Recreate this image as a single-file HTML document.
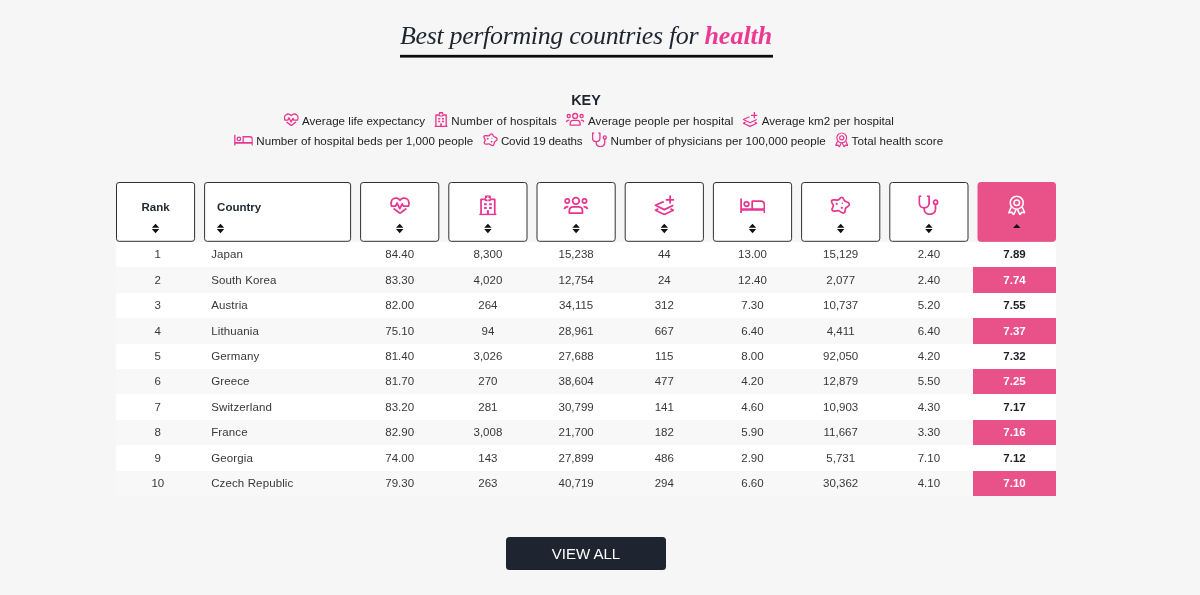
<!DOCTYPE html><html lang="en"><head><meta charset="utf-8"><title>Best performing countries for health</title><style>*{box-sizing:border-box;margin:0;padding:0}
html,body{width:1200px;height:595px;overflow:hidden}
body{background:#f6f6f6;font-family:"Liberation Sans",Arial,sans-serif;color:#2b2b2b;position:relative}
.defs{position:absolute;width:0;height:0}
.title{position:absolute;left:400px;top:19px;white-space:nowrap;font-family:"Liberation Serif","Times New Roman",serif;font-style:italic;font-weight:400;font-size:26px;line-height:34px;color:#1f2530;letter-spacing:-.35px}
.title .tt{display:inline-block;width:373px}
.title b{color:#ec3a93;font-weight:700;letter-spacing:0}
.keyh{position:absolute;left:0;width:1172px;top:91px;text-align:center;font-weight:700;font-size:14.4px;line-height:18px;color:#1f2530}
.key{position:absolute;left:0;top:0;width:1200px;height:0;font-size:11.6px;line-height:20px;color:#222;white-space:nowrap}
.kt{position:absolute;white-space:nowrap}
.k1 .kt{top:110.5px}.k2 .kt{top:130.6px}
svg{fill:none;stroke:currentColor;stroke-width:1.75;stroke-linecap:butt;stroke-linejoin:round;overflow:visible}
svg .f{fill:currentColor;stroke:none}
.thead{position:absolute;left:0;top:182px;width:1200px;height:60px}
.ov{position:absolute;left:0;top:0;pointer-events:none}
.ov .bw{fill:#fff;stroke:#303030;stroke-width:1}
.ov .bs{fill:#e95189;stroke:#e95189;stroke-width:1}
.ov .kic,.ov .hic{color:#e73690}
.ov .hs{color:#fff}
.ov .ar{fill:#111;stroke:none}
.ov .ul{fill:#0c0c0c;stroke:none}
.th{position:absolute;top:0;height:59.8px;border:1px solid transparent;text-align:center}
.th .lbl{position:absolute;left:0;right:0;top:16.5px;font-weight:700;font-size:11.5px;line-height:14px;color:#1f2530}
.th-l .lbl{left:12px;text-align:left}
.tbody{position:absolute;left:116px;top:242px;width:940px}
.tr{position:relative;height:25.4px;font-size:11.5px;line-height:25.4px;color:#383838}
.tr.odd{background:#fff}
.tr.even{background:#f8f8f8}
.td{position:absolute;top:0;height:100%;padding-top:.4px;text-align:center;white-space:nowrap}
.c1{text-align:left;padding-left:11.6px;letter-spacing:.12px}
.c9{font-weight:700;color:#1d1f24}
.even .c9{background:#e95189;color:#fff}
.btn{position:absolute;left:506px;top:536.8px;width:159.8px;height:33px;border-radius:3.5px;background:#1f2530;color:#fff;font-size:15px;line-height:33px;text-align:center}
</style></head><body>
<svg class="defs" aria-hidden="true"><defs>
<symbol id="i-heart" viewBox="0 0 20 20"><path d="M1.600 10.900 C0.600 8.600 0.900 5.100 3.100 3.600 C5.600 1.900 8.600 2.800 10 5 C11.400 2.800 14.400 1.900 16.900 3.600 C19.100 5.100 19.400 8.600 18.400 10.900"/><path d="M1 10.800 H5.600 L7 7.700 L9.800 13.300 L12.200 8.500 L13.400 10.800 H19"/><path d="M3.600 13.200 L9.300 17.500 Q10 18 10.700 17.500 L16.400 13.200"/></symbol>
<symbol id="i-hosp" viewBox="0 0 17.500 20"><path d="M1.900 19.300 V4 H6.200 M11.300 4 H15.600 V19.300"/><path d="M0 19.300 H17.500" style="stroke-width:1.600"/><path class="f" fill-rule="evenodd" d="M6.900 0 H10.600 Q11.700 0 11.700 1.100 V4.900 Q11.700 6 10.600 6 H6.900 Q5.800 6 5.800 4.900 V1.100 Q5.800 0 6.900 0 Z M8.150 1.300 V2.700 H6.900 V3.900 H8.150 V5.200 H9.350 V3.900 H10.600 V2.700 H9.350 V1.300 Z"/><path class="f" d="M4.900 7.900 H7.600 V10 H4.900 Z M9.900 7.900 H12.600 V10 H9.900 Z M4.900 11.800 H7.600 V13.800 H4.900 Z M9.900 11.800 H12.600 V13.800 H9.900 Z M7.700 15 H9.800 V18.800 H7.700 Z"/></symbol>
<symbol id="i-people" viewBox="0 0 25 20"><circle cx="12.600" cy="5.300" r="3.300"/><circle cx="4" cy="5.400" r="2.100"/><circle cx="21.200" cy="5.400" r="2.100"/><path d="M6 17.400 V15.500 C6 12.800 7.800 11.200 10 11.200 H15.200 C17.400 11.200 19.200 12.800 19.200 15.500 V17.400 Z"/><path d="M1 13.500 C1.300 11.800 2.800 10.900 5 10.900"/><path d="M24.200 13.500 C23.900 11.800 22.400 10.900 20.200 10.900"/></symbol>
<symbol id="i-layers" viewBox="0 0 20 20"><path d="M9.400 6.300 L1.100 10 L10 14.300 L19.100 10"/><path d="M4 13.500 L1.200 15 L10 19.200 L19 15 L16.200 13.600"/><path d="M15.800 0 V8.300 M11.400 4.500 H20"/></symbol>
<symbol id="i-bed" viewBox="0 0 25 20"><path d="M1.100 3.100 V17.700"/><path d="M24.400 14.200 V17.700"/><path d="M1.100 14.200 H24.400" style="stroke-width:2.400"/><path d="M12.200 14.200 V5.900 H20.900 C22.900 5.900 24.400 7.400 24.400 9.400 V14.200"/><circle cx="6.500" cy="8.800" r="2.300"/></symbol>
<symbol id="i-virus" viewBox="0 0 20 20"><path d="M11.800 2 C13.800 2 13.400 4.800 14.700 5.700 C16.200 6.700 19.300 6.700 19.300 9.100 C19.300 11.100 16.200 11.600 15.500 13.100 C14.800 14.700 15.600 17.700 13.300 17.700 C11.400 17.700 10 15.600 8.100 15.400 C6.200 15.200 3.400 17 2.100 14.900 C1 13.100 3.400 11.900 3.300 10.300 C3.200 8.700 0.600 7.400 1.500 5.400 C2.500 3.400 5.900 5.300 8.100 4.600 C9.700 4.100 10 2 11.800 2 Z"/><circle class="f" cx="6.600" cy="8.500" r="1.150"/><circle class="f" cx="12.200" cy="8" r="0.750"/><circle class="f" cx="11.700" cy="12.500" r="1.150"/></symbol>
<symbol id="i-steth" viewBox="0 0 20.700 20"><path d="M3.200 0.900 H1.100 V8 C1.100 10.700 3.300 12.500 6 12.500 C8.700 12.500 10.900 10.700 10.900 8 V0.900 H8.800"/><path d="M6 12.500 V14 C6 17 8.500 19 11.600 19 C14.700 19 17.300 17 17.300 14 V9"/><circle cx="17.400" cy="6.900" r="2.050"/></symbol>
<symbol id="i-award" viewBox="0 0 17.700 20" style="stroke-width:1.550"><circle cx="8.850" cy="7.400" r="6.500"/><circle cx="8.850" cy="7.400" r="2.800"/><path d="M3.300 12 L0.900 17.400 L3.900 17 L5.700 19.500 L8.100 14.300"/><path d="M14.400 12 L16.800 17.400 L13.800 17 L12 19.500 L9.600 14.300"/></symbol>
</defs></svg>

<h2 class="title"><span class="tt">Best performing countries for <b>health</b></span></h2>
<div class="keyh">KEY</div>
<div class="key k1">
<span class="kt" style="left:302.0px;letter-spacing:0.013px">Average life expectancy</span>
<span class="kt" style="left:451.2px;letter-spacing:0.138px">Number of hospitals</span>
<span class="kt" style="left:588.0px;letter-spacing:0.044px">Average people per hospital</span>
<span class="kt" style="left:761.7px;letter-spacing:0.042px">Average km2 per hospital</span>
</div>
<div class="key k2">
<span class="kt" style="left:256.3px;letter-spacing:0.025px">Number of hospital beds per 1,000 people</span>
<span class="kt" style="left:500.9px;letter-spacing:-0.150px">Covid 19 deaths</span>
<span class="kt" style="left:610.5px;letter-spacing:0.017px">Number of physicians per 100,000 people</span>
<span class="kt" style="left:851.6px;letter-spacing:0.040px">Total health score</span>
</div>
<svg class="ov" width="1200" height="595"><rect class="ul" x="400" y="54.85" width="373" height="2.75"/><rect class="bw" x="116.50" y="182.5" width="78.10" height="58.8" rx="2.6"/><rect class="bw" x="204.60" y="182.5" width="146.00" height="58.8" rx="2.6"/><rect class="bw" x="360.60" y="182.5" width="78.20" height="58.8" rx="2.6"/><rect class="bw" x="448.80" y="182.5" width="78.20" height="58.8" rx="2.6"/><rect class="bw" x="537.00" y="182.5" width="78.20" height="58.8" rx="2.6"/><rect class="bw" x="625.20" y="182.5" width="78.20" height="58.8" rx="2.6"/><rect class="bw" x="713.40" y="182.5" width="78.20" height="58.8" rx="2.6"/><rect class="bw" x="801.60" y="182.5" width="78.20" height="58.8" rx="2.6"/><rect class="bw" x="889.80" y="182.5" width="78.20" height="58.8" rx="2.6"/><rect class="bs" x="978.00" y="182.5" width="77.50" height="58.8" rx="2.6"/><use class="kic" href="#i-heart" x="283.75" y="112.00" width="15.00" height="15.00"/><use class="kic" href="#i-hosp" x="434.50" y="112.00" width="13.12" height="15.00"/><use class="kic" href="#i-people" x="565.70" y="112.00" width="18.75" height="15.00"/><use class="kic" href="#i-layers" x="742.50" y="112.00" width="15.00" height="15.00"/><use class="kic" href="#i-bed" x="234.00" y="132.30" width="18.75" height="15.00"/><use class="kic" href="#i-virus" x="482.80" y="132.30" width="15.00" height="15.00"/><use class="kic" href="#i-steth" x="591.75" y="132.30" width="15.52" height="15.00"/><use class="kic" href="#i-award" x="835.10" y="132.30" width="13.28" height="15.00"/><path class="ar" d="M155.55 223.8 L159.25 227.8 H151.85 Z M155.55 233.2 L159.25 229 H151.85 Z"/><path class="ar" d="M220.50 223.8 L224.20 227.8 H216.80 Z M220.50 233.2 L224.20 229 H216.80 Z"/><use class="hic" href="#i-heart" x="390.00" y="195.30" width="20.00" height="20"/><path class="ar" d="M399.70 223.8 L403.40 227.8 H396.00 Z M399.70 233.2 L403.40 229 H396.00 Z"/><use class="hic" href="#i-hosp" x="479.15" y="195.30" width="17.50" height="20"/><path class="ar" d="M487.90 223.8 L491.60 227.8 H484.20 Z M487.90 233.2 L491.60 229 H484.20 Z"/><use class="hic" href="#i-people" x="563.30" y="195.60" width="25.00" height="20"/><path class="ar" d="M576.10 223.8 L579.80 227.8 H572.40 Z M576.10 233.2 L579.80 229 H572.40 Z"/><use class="hic" href="#i-layers" x="654.30" y="195.30" width="20.00" height="20"/><path class="ar" d="M664.30 223.8 L668.00 227.8 H660.60 Z M664.30 233.2 L668.00 229 H660.60 Z"/><use class="hic" href="#i-bed" x="740.00" y="195.30" width="25.00" height="20"/><path class="ar" d="M752.50 223.8 L756.20 227.8 H748.80 Z M752.50 233.2 L756.20 229 H748.80 Z"/><use class="hic" href="#i-virus" x="830.10" y="195.30" width="20.00" height="20"/><path class="ar" d="M840.70 223.8 L844.40 227.8 H837.00 Z M840.70 233.2 L844.40 229 H837.00 Z"/><use class="hic" href="#i-steth" x="918.20" y="195.30" width="20.70" height="20"/><path class="ar" d="M928.90 223.8 L932.60 227.8 H925.20 Z M928.90 233.2 L932.60 229 H925.20 Z"/><use class="hic hs" href="#i-award" x="1007.90" y="195.30" width="17.70" height="20"/><path class="ar" d="M1016.75 224.1 L1020.45 228.1 H1013.05 Z"/></svg>
<div class="thead">
<div class="th" style="left:116.00px;width:79.10px"><span class="lbl">Rank</span></div>
<div class="th th-l" style="left:204.10px;width:147.00px"><span class="lbl">Country</span></div>
<div class="th" style="left:360.10px;width:79.20px"></div>
<div class="th" style="left:448.30px;width:79.20px"></div>
<div class="th" style="left:536.50px;width:79.20px"></div>
<div class="th" style="left:624.70px;width:79.20px"></div>
<div class="th" style="left:712.90px;width:79.20px"></div>
<div class="th" style="left:801.10px;width:79.20px"></div>
<div class="th" style="left:889.30px;width:79.20px"></div>
<div class="th th-score" style="left:977.50px;width:78.50px"></div>
</div>
<div class="tbody">
<div class="tr odd">
<span class="td c0" style="left:0.00px;width:83.60px">1</span>
<span class="td c1" style="left:83.60px;width:156.00px">Japan</span>
<span class="td c2" style="left:239.60px;width:88.20px">84.40</span>
<span class="td c3" style="left:327.80px;width:88.20px">8,300</span>
<span class="td c4" style="left:416.00px;width:88.20px">15,238</span>
<span class="td c5" style="left:504.20px;width:88.20px">44</span>
<span class="td c6" style="left:592.40px;width:88.20px">13.00</span>
<span class="td c7" style="left:680.60px;width:88.20px">15,129</span>
<span class="td c8" style="left:768.80px;width:88.20px">2.40</span>
<span class="td c9" style="left:857.00px;width:83.00px">7.89</span>
</div>
<div class="tr even">
<span class="td c0" style="left:0.00px;width:83.60px">2</span>
<span class="td c1" style="left:83.60px;width:156.00px">South Korea</span>
<span class="td c2" style="left:239.60px;width:88.20px">83.30</span>
<span class="td c3" style="left:327.80px;width:88.20px">4,020</span>
<span class="td c4" style="left:416.00px;width:88.20px">12,754</span>
<span class="td c5" style="left:504.20px;width:88.20px">24</span>
<span class="td c6" style="left:592.40px;width:88.20px">12.40</span>
<span class="td c7" style="left:680.60px;width:88.20px">2,077</span>
<span class="td c8" style="left:768.80px;width:88.20px">2.40</span>
<span class="td c9" style="left:857.00px;width:83.00px">7.74</span>
</div>
<div class="tr odd">
<span class="td c0" style="left:0.00px;width:83.60px">3</span>
<span class="td c1" style="left:83.60px;width:156.00px">Austria</span>
<span class="td c2" style="left:239.60px;width:88.20px">82.00</span>
<span class="td c3" style="left:327.80px;width:88.20px">264</span>
<span class="td c4" style="left:416.00px;width:88.20px">34,115</span>
<span class="td c5" style="left:504.20px;width:88.20px">312</span>
<span class="td c6" style="left:592.40px;width:88.20px">7.30</span>
<span class="td c7" style="left:680.60px;width:88.20px">10,737</span>
<span class="td c8" style="left:768.80px;width:88.20px">5.20</span>
<span class="td c9" style="left:857.00px;width:83.00px">7.55</span>
</div>
<div class="tr even">
<span class="td c0" style="left:0.00px;width:83.60px">4</span>
<span class="td c1" style="left:83.60px;width:156.00px">Lithuania</span>
<span class="td c2" style="left:239.60px;width:88.20px">75.10</span>
<span class="td c3" style="left:327.80px;width:88.20px">94</span>
<span class="td c4" style="left:416.00px;width:88.20px">28,961</span>
<span class="td c5" style="left:504.20px;width:88.20px">667</span>
<span class="td c6" style="left:592.40px;width:88.20px">6.40</span>
<span class="td c7" style="left:680.60px;width:88.20px">4,411</span>
<span class="td c8" style="left:768.80px;width:88.20px">6.40</span>
<span class="td c9" style="left:857.00px;width:83.00px">7.37</span>
</div>
<div class="tr odd">
<span class="td c0" style="left:0.00px;width:83.60px">5</span>
<span class="td c1" style="left:83.60px;width:156.00px">Germany</span>
<span class="td c2" style="left:239.60px;width:88.20px">81.40</span>
<span class="td c3" style="left:327.80px;width:88.20px">3,026</span>
<span class="td c4" style="left:416.00px;width:88.20px">27,688</span>
<span class="td c5" style="left:504.20px;width:88.20px">115</span>
<span class="td c6" style="left:592.40px;width:88.20px">8.00</span>
<span class="td c7" style="left:680.60px;width:88.20px">92,050</span>
<span class="td c8" style="left:768.80px;width:88.20px">4.20</span>
<span class="td c9" style="left:857.00px;width:83.00px">7.32</span>
</div>
<div class="tr even">
<span class="td c0" style="left:0.00px;width:83.60px">6</span>
<span class="td c1" style="left:83.60px;width:156.00px">Greece</span>
<span class="td c2" style="left:239.60px;width:88.20px">81.70</span>
<span class="td c3" style="left:327.80px;width:88.20px">270</span>
<span class="td c4" style="left:416.00px;width:88.20px">38,604</span>
<span class="td c5" style="left:504.20px;width:88.20px">477</span>
<span class="td c6" style="left:592.40px;width:88.20px">4.20</span>
<span class="td c7" style="left:680.60px;width:88.20px">12,879</span>
<span class="td c8" style="left:768.80px;width:88.20px">5.50</span>
<span class="td c9" style="left:857.00px;width:83.00px">7.25</span>
</div>
<div class="tr odd">
<span class="td c0" style="left:0.00px;width:83.60px">7</span>
<span class="td c1" style="left:83.60px;width:156.00px">Switzerland</span>
<span class="td c2" style="left:239.60px;width:88.20px">83.20</span>
<span class="td c3" style="left:327.80px;width:88.20px">281</span>
<span class="td c4" style="left:416.00px;width:88.20px">30,799</span>
<span class="td c5" style="left:504.20px;width:88.20px">141</span>
<span class="td c6" style="left:592.40px;width:88.20px">4.60</span>
<span class="td c7" style="left:680.60px;width:88.20px">10,903</span>
<span class="td c8" style="left:768.80px;width:88.20px">4.30</span>
<span class="td c9" style="left:857.00px;width:83.00px">7.17</span>
</div>
<div class="tr even">
<span class="td c0" style="left:0.00px;width:83.60px">8</span>
<span class="td c1" style="left:83.60px;width:156.00px">France</span>
<span class="td c2" style="left:239.60px;width:88.20px">82.90</span>
<span class="td c3" style="left:327.80px;width:88.20px">3,008</span>
<span class="td c4" style="left:416.00px;width:88.20px">21,700</span>
<span class="td c5" style="left:504.20px;width:88.20px">182</span>
<span class="td c6" style="left:592.40px;width:88.20px">5.90</span>
<span class="td c7" style="left:680.60px;width:88.20px">11,667</span>
<span class="td c8" style="left:768.80px;width:88.20px">3.30</span>
<span class="td c9" style="left:857.00px;width:83.00px">7.16</span>
</div>
<div class="tr odd">
<span class="td c0" style="left:0.00px;width:83.60px">9</span>
<span class="td c1" style="left:83.60px;width:156.00px">Georgia</span>
<span class="td c2" style="left:239.60px;width:88.20px">74.00</span>
<span class="td c3" style="left:327.80px;width:88.20px">143</span>
<span class="td c4" style="left:416.00px;width:88.20px">27,899</span>
<span class="td c5" style="left:504.20px;width:88.20px">486</span>
<span class="td c6" style="left:592.40px;width:88.20px">2.90</span>
<span class="td c7" style="left:680.60px;width:88.20px">5,731</span>
<span class="td c8" style="left:768.80px;width:88.20px">7.10</span>
<span class="td c9" style="left:857.00px;width:83.00px">7.12</span>
</div>
<div class="tr even">
<span class="td c0" style="left:0.00px;width:83.60px">10</span>
<span class="td c1" style="left:83.60px;width:156.00px">Czech Republic</span>
<span class="td c2" style="left:239.60px;width:88.20px">79.30</span>
<span class="td c3" style="left:327.80px;width:88.20px">263</span>
<span class="td c4" style="left:416.00px;width:88.20px">40,719</span>
<span class="td c5" style="left:504.20px;width:88.20px">294</span>
<span class="td c6" style="left:592.40px;width:88.20px">6.60</span>
<span class="td c7" style="left:680.60px;width:88.20px">30,362</span>
<span class="td c8" style="left:768.80px;width:88.20px">4.10</span>
<span class="td c9" style="left:857.00px;width:83.00px">7.10</span>
</div>
</div>
<a class="btn">VIEW ALL</a>
</body></html>
